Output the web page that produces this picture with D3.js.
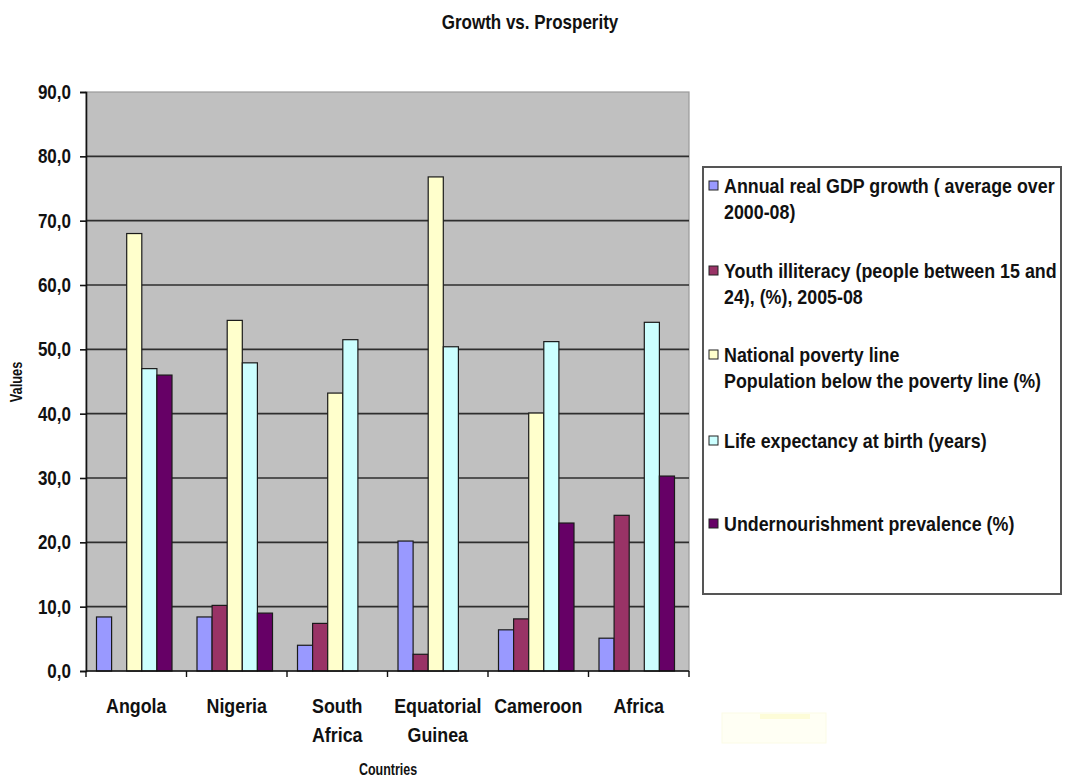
<!DOCTYPE html>
<html>
<head>
<meta charset="utf-8">
<script src="https://cdn.jsdelivr.net/npm/d3@7"></script>
<style>
  html, body { margin: 0; padding: 0; background: #fff; }
  svg { display: block; font-family: "Liberation Sans", Arial, sans-serif; }
</style>
</head>
<body>
<svg id="chart" width="1066" height="778"></svg>
<script>
// Country groups along the x axis
const countries = ["Angola", "Nigeria", "South Africa", "Equatorial Guinea", "Cameroon", "Africa"];

// Series (one value per country, 0 = no data)
const gdpGrowth        = [8.4, 8.4, 4.0, 20.2, 6.4, 5.1];
const youthIlliteracy  = [0.0, 10.2, 7.4, 2.6, 8.1, 24.2];
const povertyLine      = [68.0, 54.5, 43.2, 76.8, 40.1, 0.0];
const lifeExpectancy   = [47.0, 47.9, 51.5, 50.4, 51.2, 54.2];
const undernourishment = [46.0, 9.0, 0.0, 0.0, 23.0, 30.3];

const seriesNames = [
  ["Annual real GDP growth ( average over", "2000-08)"],
  ["Youth illiteracy (people between 15 and", "24), (%), 2005-08"],
  ["National poverty line", "Population below the poverty line (%)"],
  ["Life expectancy at birth (years)"],
  ["Undernourishment prevalence (%)"]
];
const seriesColors = ["#9999ff", "#993366", "#ffffcc", "#ccffff", "#660066"];
const seriesValues = [gdpGrowth, youthIlliteracy, povertyLine, lifeExpectancy, undernourishment];

const yTicks = [0, 10, 20, 30, 40, 50, 60, 70, 80, 90];

const chartTitle = "Growth vs. Prosperity";
const xTitle = "Countries";
const yTitle = "Values";

// ---- layout ----
const svg = d3.select("#chart");
const plot = { left: 86, right: 689, top: 92, bottom: 671 };
const squeeze = 0.85; // narrow letterforms

const x0 = d3.scaleBand().domain(countries).range([plot.left, plot.right]).padding(0);
const x1 = d3.scaleBand().domain(d3.range(seriesValues.length)).range([10.5, 86]).padding(0);
const y = d3.scaleLinear().domain([0, 90]).range([plot.bottom, plot.top]);

const locale = d3.formatLocale({ decimal: ",", thousands: ".", grouping: [3], currency: ["", ""] });
const fmt = locale.format(".1f");

function label(parent, x, yy, str, size, anchor, sx) {
  return parent.append("text")
    .attr("transform", `translate(${x},${yy}) scale(${sx || squeeze},1)`)
    .attr("text-anchor", anchor || "middle")
    .attr("font-size", size)
    .attr("font-weight", "bold")
    .attr("fill", "#111")
    .text(str);
}

// plot background
svg.append("rect")
  .attr("x", plot.left).attr("y", plot.top)
  .attr("width", plot.right - plot.left).attr("height", plot.bottom - plot.top)
  .attr("fill", "#c0c0c0")
  .attr("stroke", "#9a9a9a").attr("stroke-width", 1.2);

// horizontal gridlines
svg.append("g").selectAll("line")
  .data(yTicks.filter(t => t > 0 && t < 90))
  .join("line")
  .attr("x1", plot.left).attr("x2", plot.right)
  .attr("y1", d => y(d)).attr("y2", d => y(d))
  .attr("stroke", "#2e2e2e").attr("stroke-width", 1.6);

// bars
const groups = svg.append("g").selectAll("g")
  .data(countries)
  .join("g")
  .attr("transform", d => `translate(${x0(d)},0)`);

groups.selectAll("rect")
  .data((c, i) => seriesValues.map((vals, s) => ({ s, v: vals[i] })).filter(d => d.v > 0))
  .join("rect")
  .attr("x", d => x1(d.s))
  .attr("width", x1.bandwidth())
  .attr("y", d => y(d.v))
  .attr("height", d => y(0) - y(d.v))
  .attr("fill", d => seriesColors[d.s])
  .attr("stroke", "#1a1a1a").attr("stroke-width", 1.2);

// y axis
const yAxis = svg.append("g")
  .attr("transform", `translate(${plot.left},0)`)
  .call(d3.axisLeft(y).tickValues(yTicks).tickSize(6).tickFormat(""));
yAxis.select(".domain").attr("stroke", "#111").attr("stroke-width", 1.6);
yAxis.selectAll(".tick line").attr("stroke", "#111").attr("stroke-width", 1.6);
yTicks.forEach(t => label(svg, 71, y(t) + 7, fmt(t), 20, "end"));

// x axis
const xBounds = countries.map(c => x0(c)).concat([plot.right]);
svg.append("line")
  .attr("x1", plot.left).attr("x2", plot.right)
  .attr("y1", plot.bottom).attr("y2", plot.bottom)
  .attr("stroke", "#111").attr("stroke-width", 1.6);
svg.append("g").selectAll("line")
  .data(xBounds)
  .join("line")
  .attr("x1", d => d).attr("x2", d => d)
  .attr("y1", plot.bottom).attr("y2", plot.bottom + 6)
  .attr("stroke", "#111").attr("stroke-width", 1.4);

countries.forEach(c => {
  const cx = x0(c) + x0.bandwidth() / 2;
  const words = c.split(" ");
  words.forEach((w, k) => label(svg, cx, 713 + k * 29, w, 21));
});

// titles
label(svg, 530, 29, chartTitle, 20);
label(svg, 388, 775, xTitle, 16, "middle", 0.78);
svg.append("text")
  .attr("transform", `translate(22,382) rotate(-90) scale(0.8,1)`)
  .attr("text-anchor", "middle")
  .attr("font-size", 16).attr("font-weight", "bold").attr("fill", "#111")
  .text(yTitle);

// legend
const legend = svg.append("g");
legend.append("rect")
  .attr("x", 703).attr("y", 167).attr("width", 358).attr("height", 427)
  .attr("fill", "#fff").attr("stroke", "#555").attr("stroke-width", 2);
const entryY = [186, 271, 355, 441, 524];
seriesNames.forEach((lines, s) => {
  legend.append("rect")
    .attr("x", 709).attr("y", entryY[s] - 5).attr("width", 9).attr("height", 9)
    .attr("fill", seriesColors[s]).attr("stroke", "#222").attr("stroke-width", 1);
  lines.forEach((ln, k) => label(legend, 724, entryY[s] + 7 + k * 26, ln, 21, "start"));
});

// faint pale mark below the legend
svg.append("rect")
  .attr("x", 722).attr("y", 713).attr("width", 104).attr("height", 30)
  .attr("fill", "#fffff4").attr("stroke", "#fbfbe6").attr("stroke-width", 1);
svg.append("rect")
  .attr("x", 760).attr("y", 714).attr("width", 50).attr("height", 5)
  .attr("fill", "#fdfcd8");
</script>
</body>
</html>
